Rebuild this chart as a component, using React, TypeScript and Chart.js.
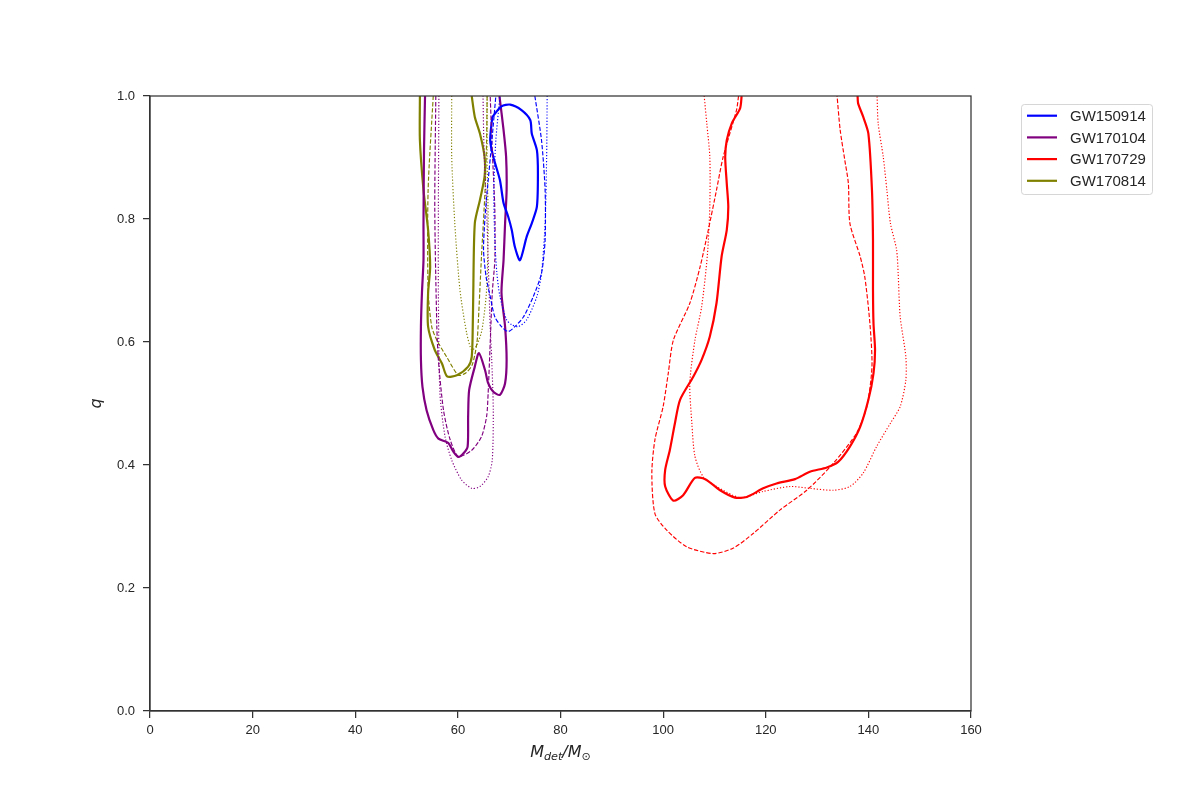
import React, { useEffect, useRef } from "react";
import { Chart, registerables } from "chart.js";

Chart.register(...registerables);

// ---- data (detector-frame total mass M_det, mass ratio q) ----
const EVENTS = ["GW150914", "GW170104", "GW170729", "GW170814"];
const COLORS = ["#0000ff", "#800080", "#ff0000", "#808000"];

const X_TICK_STEP = 20;
const X_MIN = 0;
const X_MAX = 160;
const Y_TICK_STEP = 0.2;
const Y_MIN = 0;
const Y_MAX = 1;

type P = [number, number];

// GW150914
const gw150914Solid: P[] = [
  [66.7, 0.966], [68.5, 0.983], [70.2, 0.986], [72.4, 0.977], [74.1, 0.961], [74.4, 0.939],
  [75.4, 0.912], [75.6, 0.874], [75.4, 0.82], [74.4, 0.793], [73.4, 0.771], [72.1, 0.733],
  [71.1, 0.755], [70.5, 0.782], [69.8, 0.804], [68.9, 0.826], [68.2, 0.863], [66.9, 0.901],
  [66.3, 0.928], [66.7, 0.966],
];
const gw150914Dashed: P[] = [
  [75.0, 1.0], [76.3, 0.928], [77.0, 0.847], [77.0, 0.766], [76.3, 0.712], [74.7, 0.674],
  [72.8, 0.641], [71.1, 0.625], [69.8, 0.617], [68.5, 0.625], [67.2, 0.641], [66.3, 0.674],
  [65.5, 0.706], [65.0, 0.75], [65.3, 0.804], [65.7, 0.844], [66.6, 0.925], [67.4, 1.0],
];
const gw150914Dotted: P[] = [
  [77.4, 1.0], [77.3, 0.901], [77.0, 0.793], [76.3, 0.712], [75.4, 0.674], [73.4, 0.636],
  [71.8, 0.625], [70.5, 0.628], [69.5, 0.636], [68.2, 0.674], [67.6, 0.712], [67.2, 0.766],
  [67.0, 0.847], [67.4, 0.928], [68.2, 1.0],
];

// GW170104
const gw170104Solid: P[] = [
  [53.6, 1.0], [53.4, 0.912], [53.3, 0.793], [53.3, 0.733], [53.0, 0.68], [52.8, 0.625],
  [52.8, 0.571], [53.1, 0.527], [53.9, 0.489], [55.2, 0.457], [56.2, 0.443], [58.1, 0.436],
  [59.1, 0.422], [60.1, 0.413], [61.1, 0.419], [61.9, 0.43], [62.0, 0.479], [62.2, 0.522],
  [63.3, 0.56], [64.1, 0.582], [65.3, 0.554], [65.9, 0.533], [66.9, 0.519], [68.2, 0.514],
  [69.2, 0.533], [69.5, 0.571], [69.2, 0.625], [68.5, 0.68], [68.9, 0.733], [69.2, 0.793],
  [69.5, 0.847], [69.4, 0.901], [68.9, 0.945], [68.1, 1.0],
];
const gw170104Dashed: P[] = [
  [55.7, 1.0], [55.5, 0.816], [55.9, 0.625], [56.2, 0.571], [57.2, 0.489], [58.5, 0.441],
  [60.1, 0.414], [62.7, 0.424], [64.6, 0.446], [65.6, 0.479], [65.9, 0.517], [66.3, 0.598],
  [66.7, 0.68], [67.2, 0.733], [67.2, 0.816], [66.7, 0.912], [66.3, 1.0],
];
const gw170104Dotted: P[] = [
  [56.3, 1.0], [56.2, 0.816], [56.2, 0.68], [56.5, 0.517], [57.5, 0.446], [58.8, 0.408],
  [60.7, 0.376], [62.7, 0.362], [64.3, 0.365], [65.9, 0.381], [66.7, 0.408], [66.9, 0.489],
  [66.6, 0.571], [66.3, 0.625], [65.9, 0.733], [65.6, 0.816], [65.1, 0.912], [64.9, 1.0],
];

// GW170729
const gw170729Solid: P[] = [
  [115.3, 1.0], [115.0, 0.98], [113.4, 0.956], [112.4, 0.928], [112.1, 0.901], [112.4, 0.858],
  [112.7, 0.82], [112.4, 0.782], [111.4, 0.739], [110.4, 0.663], [109.1, 0.609], [107.5, 0.571],
  [105.9, 0.544], [103.3, 0.506], [102.3, 0.468], [101.3, 0.424], [100.4, 0.392], [100.4, 0.365],
  [102.0, 0.342], [103.9, 0.351], [106.2, 0.379], [108.2, 0.377], [111.1, 0.359], [114.0, 0.347],
  [116.3, 0.348], [119.5, 0.362], [122.1, 0.37], [125.7, 0.377], [128.6, 0.389], [131.9, 0.396],
  [134.1, 0.405], [136.4, 0.43], [138.4, 0.462], [140.0, 0.506], [141.0, 0.549], [141.3, 0.587],
  [141.0, 0.63], [140.9, 0.685], [140.9, 0.766], [140.7, 0.847], [140.0, 0.939], [139.0, 0.966],
  [138.0, 0.988], [137.9, 1.0],
];
const gw170729Dashed: P[] = [
  [114.7, 1.0], [114.3, 0.977], [111.7, 0.901], [110.4, 0.847], [108.8, 0.782], [107.2, 0.722],
  [105.2, 0.663], [102.0, 0.603], [101.0, 0.549], [100.0, 0.495], [98.4, 0.441], [97.8, 0.387],
  [98.4, 0.321], [100.7, 0.294], [104.6, 0.267], [109.8, 0.256], [113.7, 0.265], [117.6, 0.289],
  [122.8, 0.327], [128.0, 0.359], [133.2, 0.403], [137.7, 0.452], [139.7, 0.495], [140.7, 0.56],
  [140.3, 0.63], [139.3, 0.706], [138.4, 0.739], [136.4, 0.793], [136.1, 0.858], [135.4, 0.896],
  [134.5, 0.945], [133.9, 1.0],
];
const gw170729Dotted: P[] = [
  [108.0, 1.0], [108.5, 0.956], [109.1, 0.901], [109.1, 0.82], [108.6, 0.739], [107.5, 0.657],
  [106.2, 0.603], [105.2, 0.533], [105.6, 0.468], [106.2, 0.414], [107.8, 0.381], [110.4, 0.365],
  [115.0, 0.347], [119.5, 0.357], [124.7, 0.365], [128.6, 0.362], [133.2, 0.359], [136.4, 0.365],
  [139.0, 0.387], [141.6, 0.43], [144.3, 0.468], [146.2, 0.495], [147.3, 0.538], [147.3, 0.576],
  [146.2, 0.641], [145.8, 0.712], [145.5, 0.75], [144.3, 0.793], [143.6, 0.847], [142.9, 0.901],
  [141.9, 0.956], [141.7, 1.0],
];

// GW170814
const gw170814Solid: P[] = [
  [52.6, 1.0], [52.6, 0.928], [53.3, 0.847], [54.2, 0.782], [54.6, 0.722], [54.2, 0.68],
  [54.2, 0.625], [55.5, 0.587], [56.9, 0.565], [57.9, 0.544], [59.8, 0.546], [62.0, 0.56],
  [62.7, 0.576], [62.9, 0.625], [63.0, 0.68], [63.3, 0.793], [64.3, 0.831], [65.2, 0.869],
  [65.2, 0.901], [64.3, 0.939], [63.3, 0.966], [62.7, 1.0],
];
const gw170814Dashed: P[] = [
  [55.2, 1.0], [54.2, 0.847], [54.2, 0.685], [54.9, 0.625], [55.9, 0.603], [57.8, 0.576],
  [60.1, 0.546], [61.6, 0.55], [62.8, 0.563], [63.7, 0.598], [64.0, 0.636], [64.6, 0.739],
  [65.3, 0.847], [65.6, 0.928], [65.7, 1.0],
];
const gw170814Dotted: P[] = [
  [58.8, 1.0], [58.8, 0.901], [59.4, 0.793], [60.4, 0.685], [61.7, 0.615], [62.7, 0.587],
  [63.7, 0.595], [64.7, 0.62], [65.6, 0.685], [65.9, 0.793], [65.7, 0.901], [65.7, 1.0],
];

const SOLID = [gw150914Solid, gw170104Solid, gw170729Solid, gw170814Solid];
const DASHED = [gw150914Dashed, gw170104Dashed, gw170729Dashed, gw170814Dashed];
const DOTTED = [gw150914Dotted, gw170104Dotted, gw170729Dotted, gw170814Dotted];

const AXIS_COLOR = "#333333";
const TEXT_COLOR = "#262626";
const TICK_FONT = "Liberation Sans";

function makeDataset(points: P[], color: string, style: "solid" | "dashed" | "dotted", label: string) {
  const width = style === "solid" ? 2.2 : 1.15;
  const dash = style === "solid" ? [] : style === "dashed" ? [4.3, 1.9] : [1.2, 1.9];
  return {
    label,
    data: points.map(([x, y]) => ({ x, y })),
    showLine: true,
    borderColor: color,
    backgroundColor: color,
    borderWidth: width,
    borderDash: dash,
    pointRadius: 0,
    pointHoverRadius: 0,
    tension: 0.25,
    fill: false,
  };
}

const decorPlugin = {
  id: "decor",
  afterDatasetsDraw(chart: any) {
    const { ctx, chartArea } = chart;
    const { left, top, right, bottom } = chartArea;
    ctx.save();
    ctx.strokeStyle = AXIS_COLOR;
    ctx.lineWidth = 1.25;
    ctx.strokeRect(left, top, right - left, bottom - top);
    ctx.restore();
  },
  afterDraw(chart: any) {
    const { ctx, chartArea } = chart;
    const { left, top, right, bottom } = chartArea;
    ctx.save();
    ctx.fillStyle = TEXT_COLOR;

    // x axis label: M_det / M_sun
    const big = 16;
    const small = 11.2;
    const parts: { t: string; s: number; dy: number; italic: boolean }[] = [
      { t: "M", s: big, dy: 0, italic: true },
      { t: "det", s: small, dy: 3.2, italic: true },
      { t: "/", s: big, dy: 0, italic: true },
      { t: "M", s: big, dy: 0, italic: true },
      { t: "\u2299", s: small, dy: 3.2, italic: false },
    ];
    const fontOf = (p: { s: number; italic: boolean }) =>
      `${p.italic ? "italic " : ""}${p.s}px "DejaVu Sans"`;
    let total = 0;
    const widths = parts.map((p) => {
      ctx.font = fontOf(p);
      const w = ctx.measureText(p.t).width;
      total += w;
      return w;
    });
    let cx = (left + right) / 2 - total / 2;
    const baseY = 757;
    ctx.textBaseline = "alphabetic";
    ctx.textAlign = "left";
    parts.forEach((p, i) => {
      ctx.font = fontOf(p);
      ctx.fillText(p.t, cx, baseY + p.dy);
      cx += widths[i];
    });

    // y axis label: q
    ctx.save();
    ctx.translate(97, (top + bottom) / 2);
    ctx.rotate(-Math.PI / 2);
    ctx.font = `italic ${big}px "DejaVu Sans"`;
    ctx.textAlign = "center";
    ctx.textBaseline = "middle";
    ctx.fillText("q", 0, 0);
    ctx.restore();

    // legend
    const lx = 1021.5;
    const ly = 104.5;
    const lw = 131;
    const lh = 90;
    const r = 3;
    ctx.beginPath();
    ctx.moveTo(lx + r, ly);
    ctx.lineTo(lx + lw - r, ly);
    ctx.arcTo(lx + lw, ly, lx + lw, ly + r, r);
    ctx.lineTo(lx + lw, ly + lh - r);
    ctx.arcTo(lx + lw, ly + lh, lx + lw - r, ly + lh, r);
    ctx.lineTo(lx + r, ly + lh);
    ctx.arcTo(lx, ly + lh, lx, ly + lh - r, r);
    ctx.lineTo(lx, ly + r);
    ctx.arcTo(lx, ly, lx + r, ly, r);
    ctx.closePath();
    ctx.fillStyle = "rgba(255,255,255,0.8)";
    ctx.fill();
    ctx.strokeStyle = "rgba(204,204,204,0.8)";
    ctx.lineWidth = 1;
    ctx.stroke();

    EVENTS.forEach((name, i) => {
      const y = 115.7 + i * 21.7;
      ctx.beginPath();
      ctx.moveTo(1027, y);
      ctx.lineTo(1057, y);
      ctx.strokeStyle = COLORS[i];
      ctx.lineWidth = 2.2;
      ctx.setLineDash([]);
      ctx.stroke();
      ctx.fillStyle = TEXT_COLOR;
      ctx.font = `15px "${TICK_FONT}"`;
      ctx.textAlign = "left";
      ctx.textBaseline = "middle";
      ctx.fillText(name, 1070, y + 1);
    });
    ctx.restore();
  },
};

export default function App() {
  const ref = useRef<HTMLCanvasElement | null>(null);

  useEffect(() => {
    if (!ref.current) return;
    const datasets: any[] = [];
    for (let i = 0; i < EVENTS.length; i++) {
      datasets.push(makeDataset(DOTTED[i], COLORS[i], "dotted", EVENTS[i] + " (dotted)"));
      datasets.push(makeDataset(DASHED[i], COLORS[i], "dashed", EVENTS[i] + " (dashed)"));
    }
    for (let i = 0; i < EVENTS.length; i++) {
      datasets.push(makeDataset(SOLID[i], COLORS[i], "solid", EVENTS[i]));
    }

    const chart = new Chart(ref.current, {
      type: "scatter",
      data: { datasets },
      options: {
        animation: false,
        responsive: false,
        devicePixelRatio: 1,
        layout: { padding: { left: 100, top: 96, right: 229, bottom: 39 } },
        plugins: {
          legend: { display: false },
          tooltip: { enabled: false },
        },
        scales: {
          x: {
            type: "linear",
            min: X_MIN,
            max: X_MAX,
            ticks: {
              stepSize: X_TICK_STEP,
              color: TEXT_COLOR,
              font: { family: TICK_FONT, size: 13 },
              padding: 5,
              maxRotation: 0,
            },
            grid: {
              drawOnChartArea: false,
              drawTicks: true,
              tickLength: 7,
              color: AXIS_COLOR,
              lineWidth: 1.25,
            },
            border: { display: true, color: AXIS_COLOR, width: 1.25 },
            afterFit: (s: any) => {
              s.height = 50;
            },
          },
          y: {
            type: "linear",
            min: Y_MIN,
            max: Y_MAX,
            ticks: {
              stepSize: Y_TICK_STEP,
              color: TEXT_COLOR,
              font: { family: TICK_FONT, size: 13 },
              padding: 8,
              callback: (v: any) => Number(v).toFixed(1),
            },
            grid: {
              drawOnChartArea: false,
              drawTicks: true,
              tickLength: 7,
              color: AXIS_COLOR,
              lineWidth: 1.25,
            },
            border: { display: true, color: AXIS_COLOR, width: 1.25 },
            afterFit: (s: any) => {
              s.width = 50;
            },
          },
        },
      },
      plugins: [decorPlugin],
    } as any);

    return () => chart.destroy();
  }, []);

  return (
    <div style={{ position: "fixed", left: 0, top: 0, width: 1200, height: 800, background: "#fff" }}>
      <canvas ref={ref} width={1200} height={800} style={{ width: 1200, height: 800, display: "block" }} />
    </div>
  );
}
